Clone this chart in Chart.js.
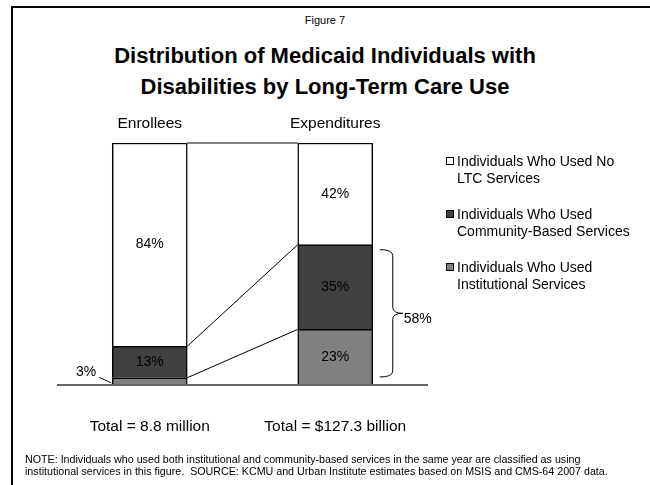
<!DOCTYPE html>
<html>
<head>
<meta charset="utf-8">
<title>Figure 7</title>
<script src="https://cdn.jsdelivr.net/npm/chart.js@4"></script>
<style>
  body { margin: 0; background: #fff; font-family: "Liberation Sans", Arial, sans-serif; color: #000; }
  #page { position: relative; width: 650px; height: 485px; overflow: hidden; }
  #frame { position: absolute; left: 11px; top: 6px; width: 700px; height: 600px; border: 2px solid #000; }
  #fig { position: absolute; top: 14px; left: 0; width: 650px; text-align: center; font-size: 11px; line-height: 13px; }
  #title { position: absolute; top: 40px; left: 0; width: 650px; text-align: center; font-size: 22px; font-weight: bold; line-height: 31px; }
  #chart { position: absolute; left: 0; top: 0; }
  #legend { position: absolute; left: 446px; top: 153px; width: 195px; font-size: 14px; line-height: 17px; }
  .item { position: relative; padding-left: 11px; margin-bottom: 19px; }
  .box { position: absolute; left: 0; top: 4px; width: 6px; height: 6px; border: 1px solid #000; }
  #note { position: absolute; left: 25px; top: 454px; font-size: 10.7px; line-height: 11.5px; white-space: nowrap; }
</style>
</head>
<body>
<div id="page">
  <div id="frame"></div>
  <div id="fig">Figure 7</div>
  <div id="title">Distribution of Medicaid Individuals with<br>Disabilities by Long-Term Care Use</div>
  <canvas id="chart" width="650" height="485"></canvas>
  <div id="legend"></div>
  <div id="note">NOTE: Individuals who used both institutional and community-based services in the same year are classified as using<br>institutional services in this figure.&nbsp; SOURCE: KCMU and Urban Institute estimates based on MSIS and CMS-64 2007 data.</div>
</div>
<script>
// share of enrollees / spending, bottom of the stack first
const categories = ['Enrollees', 'Expenditures'];
const totals = ['Total = 8.8 million', 'Total = $127.3 billion'];
const seriesNames = [
  'Individuals Who Used Institutional Services',
  'Individuals Who Used Community-Based Services',
  'Individuals Who Used No LTC Services'
];
const institutional = [3, 23];
const community = [13, 35];
const noLtc = [84, 42];

const fills = ['#808080', '#404040', '#ffffff'];
const FONT = '"Liberation Sans", Arial, sans-serif';

// connectors, baseline, percent labels, brace and captions
const overlay = {
  id: 'overlay',
  afterDatasetsDraw(chart) {
    const ctx = chart.ctx;
    const yScale = chart.scales.y;
    const area = chart.chartArea;
    const metas = chart.data.datasets.map((d, i) => chart.getDatasetMeta(i));
    const y0 = yScale.getPixelForValue(0);

    ctx.save();
    ctx.lineWidth = 1;
    ctx.strokeStyle = '#000';
    metas.forEach(m => {
      const a = m.data[0], b = m.data[1];
      ctx.beginPath();
      ctx.moveTo(a.x + a.width / 2, a.y);
      ctx.lineTo(b.x - b.width / 2, b.y);
      ctx.stroke();
    });

    ctx.strokeStyle = '#666';
    ctx.lineWidth = 2;
    ctx.beginPath();
    ctx.moveTo(area.left, y0);
    ctx.lineTo(area.right, y0);
    ctx.stroke();

    ctx.fillStyle = '#000';
    ctx.strokeStyle = '#000';
    ctx.lineWidth = 1;
    ctx.font = '14px ' + FONT;
    ctx.textBaseline = 'middle';
    chart.data.datasets.forEach((ds, i) => {
      metas[i].data.forEach((bar, j) => {
        const v = ds.data[j];
        const mid = (bar.y + bar.base) / 2;
        if (v >= 5) {
          ctx.textAlign = 'center';
          ctx.fillText(v + '%', bar.x, mid);
        } else {
          // thin slice: label outside with a leader
          const left = bar.x - bar.width / 2;
          ctx.textAlign = 'right';
          ctx.fillText(v + '%', left - 16, mid - 9);
          ctx.beginPath();
          ctx.moveTo(left - 13, mid - 4);
          ctx.lineTo(left - 1, mid + 1.5);
          ctx.stroke();
        }
      });
    });

    // brace over the long-term care share of spending
    const last = categories.length - 1;
    const ltc = institutional[last] + community[last];
    const bar = metas[0].data[last];
    const right = bar.x + bar.width / 2;
    const top = yScale.getPixelForValue(ltc) + 5;
    const bottom = y0 - 8;
    const mid = (top + bottom) / 2;
    const x0 = right + 7, x1 = right + 20, tip = right + 30;
    ctx.beginPath();
    ctx.moveTo(x0, top);
    ctx.quadraticCurveTo(x1, top, x1, top + 6);
    ctx.lineTo(x1, mid - 6);
    ctx.quadraticCurveTo(x1, mid, tip, mid);
    ctx.quadraticCurveTo(x1, mid, x1, mid + 6);
    ctx.lineTo(x1, bottom - 6);
    ctx.quadraticCurveTo(x1, bottom, x0, bottom);
    ctx.stroke();
    ctx.textAlign = 'left';
    ctx.fillText(ltc + '%', tip + 1, mid + 6);

    // column headings and totals
    ctx.font = '15.5px ' + FONT;
    ctx.textAlign = 'center';
    metas[0].data.forEach((b, j) => {
      ctx.fillText(categories[j], b.x, area.top - 19);
      ctx.fillText(totals[j], b.x, y0 + 42);
    });
    ctx.restore();
  }
};

const series = [institutional, community, noLtc];

new Chart(document.getElementById('chart'), {
  type: 'bar',
  data: {
    labels: categories,
    datasets: series.map((vals, i) => ({
      label: seriesNames[i],
      data: vals,
      backgroundColor: fills[i],
      borderColor: '#000',
      borderWidth: 1.5,
      barThickness: 75
    }))
  },
  options: {
    responsive: false,
    animation: false,
    events: [],
    layout: { padding: { left: 57, right: 222, top: 143, bottom: 100 } },
    scales: {
      x: { stacked: true, display: false },
      y: { stacked: true, display: false, min: 0, max: 100 }
    },
    plugins: {
      legend: { display: false },
      tooltip: { enabled: false }
    }
  },
  plugins: [overlay]
});

// legend, top series first
const legendEl = document.getElementById('legend');
for (let i = series.length - 1; i >= 0; i--) {
  const item = document.createElement('div');
  item.className = 'item';
  item.innerHTML = '<span class="box" style="background:' + fills[i] + '"></span>' + seriesNames[i];
  legendEl.appendChild(item);
}
</script>
</body>
</html>
